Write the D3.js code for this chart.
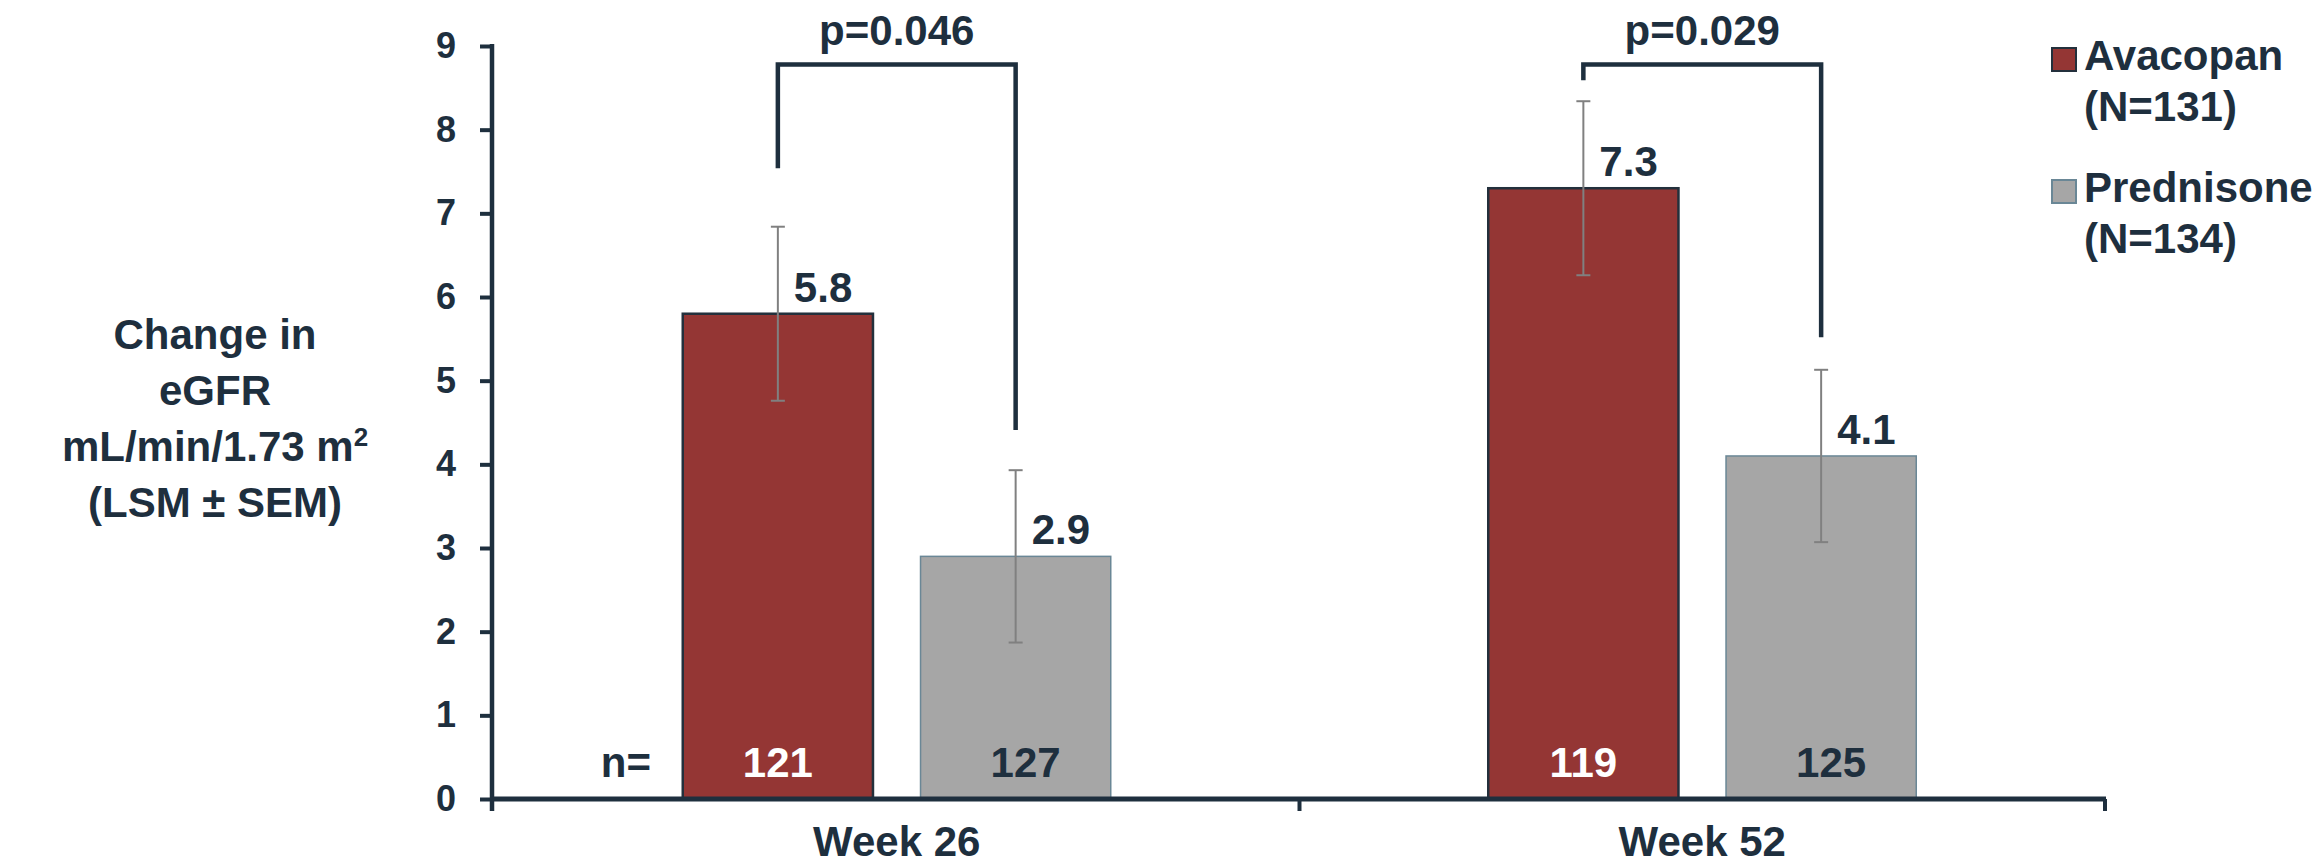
<!DOCTYPE html>
<html>
<head>
<meta charset="utf-8">
<script src="https://cdn.jsdelivr.net/npm/d3@7"></script>
<style>
  html, body { margin: 0; padding: 0; background: #ffffff; }
  svg text { font-family: "Liberation Sans", Arial, Helvetica, sans-serif; font-weight: bold; }
</style>
</head>
<body>
<svg id="chart" width="2321" height="865"></svg>
<script>
// ---- data ----
const weeks = ["Week 26", "Week 52"];
const series = ["Avacopan", "Prednisone"];
const seriesN = ["(N=131)", "(N=134)"];
const avacopanLSM = [5.8, 7.3];
const prednisoneLSM = [2.9, 4.1];
const avacopanSEM = [1.04, 1.04];
const prednisoneSEM = [1.03, 1.03];
const avacopanN = [121, 119];
const prednisoneN = [127, 125];
const pValues = ["p=0.046", "p=0.029"];
const bracketTop = [8.78, 8.78];
const bracketLeftEnd = [7.54, 8.59];
const bracketRightEnd = [4.41, 5.52];
const yTicks = [0, 1, 2, 3, 4, 5, 6, 7, 8, 9];

// ---- styling ----
const ink = "#1e2f3e";
const fills = ["#943634", "#a6a6a6"];
const strokes = ["#23303c", "#6a8796"];
const strokeW = [2.5, 1.5];
const nColors = ["#ffffff", ink];
const nDx = [0, 10];

const svg = d3.select("#chart");
const axisX = 492, plotLeft = 494, plotRight = 2105;
const y = d3.scaleLinear().domain([0, 9]).range([799, 46]);
const xCat = d3.scaleBand().domain(weeks).range([plotLeft, plotRight]).padding(0);
const groupW = 428;
const xBar = d3.scaleBand().domain(series).range([0, groupW]).paddingInner(0.2);
const groupLeft = w => xCat(w) + (xCat.bandwidth() - groupW) / 2;

const rows = weeks.map((w, i) => [
  { week: w, s: 0, lsm: avacopanLSM[i], sem: avacopanSEM[i], n: avacopanN[i] },
  { week: w, s: 1, lsm: prednisoneLSM[i], sem: prednisoneSEM[i], n: prednisoneN[i] }
]);
const bars = rows.flat();
const cx = d => groupLeft(d.week) + xBar(series[d.s]) + xBar.bandwidth() / 2;

// bars
svg.append("g").selectAll("rect").data(bars).join("rect")
  .attr("x", d => groupLeft(d.week) + xBar(series[d.s]))
  .attr("y", d => y(d.lsm))
  .attr("width", xBar.bandwidth())
  .attr("height", d => y(0) - y(d.lsm))
  .attr("fill", d => fills[d.s])
  .attr("stroke", d => strokes[d.s])
  .attr("stroke-width", d => strokeW[d.s]);

// error bars (LSM ± SEM)
const eb = svg.append("g").attr("stroke", "#808080").attr("stroke-width", 2);
bars.forEach(d => {
  const x = cx(d);
  eb.append("line").attr("x1", x).attr("x2", x).attr("y1", y(d.lsm + d.sem)).attr("y2", y(d.lsm - d.sem));
  [d.lsm + d.sem, d.lsm - d.sem].forEach(v =>
    eb.append("line").attr("x1", x - 7).attr("x2", x + 7).attr("y1", y(v)).attr("y2", y(v)));
});

// value labels
svg.append("g").selectAll("text").data(bars).join("text")
  .attr("x", d => cx(d) + 16)
  .attr("y", d => y(d.lsm) - 12)
  .attr("font-size", 42)
  .attr("fill", ink)
  .text(d => d.lsm.toFixed(1));

// n labels inside bars
svg.append("g").selectAll("text").data(bars).join("text")
  .attr("x", d => cx(d) + nDx[d.s])
  .attr("y", 777)
  .attr("text-anchor", "middle")
  .attr("font-size", 42)
  .attr("fill", d => nColors[d.s])
  .text(d => d.n);

svg.append("text").attr("x", 651).attr("y", 777).attr("text-anchor", "end")
  .attr("font-size", 42).attr("fill", ink).text("n=");

// significance brackets
weeks.forEach((w, i) => {
  const xl = cx(rows[i][0]), xr = cx(rows[i][1]);
  svg.append("path")
    .attr("d", `M${xl},${y(bracketLeftEnd[i])}V${y(bracketTop[i])}H${xr}V${y(bracketRightEnd[i])}`)
    .attr("fill", "none").attr("stroke", ink).attr("stroke-width", 4.5);
  svg.append("text").attr("x", (xl + xr) / 2).attr("y", 45)
    .attr("text-anchor", "middle").attr("font-size", 42).attr("fill", ink)
    .text(pValues[i]);
});

// y axis
const yAxis = svg.append("g").attr("transform", `translate(${axisX},0)`)
  .call(d3.axisLeft(y).tickValues(yTicks).tickSize(12).tickPadding(24).tickSizeOuter(0));
yAxis.select(".domain").remove();
yAxis.selectAll(".tick line").attr("stroke", ink).attr("stroke-width", 4);
yAxis.selectAll(".tick text").attr("font-size", 36).attr("fill", ink)
  .attr("font-family", "\"Liberation Sans\", Arial, sans-serif").attr("font-weight", "bold");
svg.append("line").attr("x1", axisX).attr("x2", axisX).attr("y1", y(9) - 2).attr("y2", y(0) + 12)
  .attr("stroke", ink).attr("stroke-width", 4.5);

// x axis with tick marks between categories
svg.append("line").attr("x1", axisX).attr("x2", plotRight + 1).attr("y1", y(0)).attr("y2", y(0))
  .attr("stroke", ink).attr("stroke-width", 5);
const bounds = weeks.map(w => xCat(w)).concat([plotRight]).slice(1);
svg.append("g").selectAll("line").data(bounds).join("line")
  .attr("x1", d => d).attr("x2", d => d).attr("y1", y(0)).attr("y2", y(0) + 12)
  .attr("stroke", ink).attr("stroke-width", 4);
svg.append("g").selectAll("text").data(weeks).join("text")
  .attr("x", w => xCat(w) + xCat.bandwidth() / 2)
  .attr("y", 856)
  .attr("text-anchor", "middle").attr("font-size", 42).attr("fill", ink)
  .text(w => w);

// y axis title
const title = svg.append("text").attr("text-anchor", "middle").attr("font-size", 42).attr("fill", ink);
title.append("tspan").attr("x", 215).attr("y", 349).text("Change in");
title.append("tspan").attr("x", 215).attr("y", 405).text("eGFR");
const l3 = title.append("tspan").attr("x", 215).attr("y", 461);
l3.append("tspan").text("mL/min/1.73 m");
l3.append("tspan").attr("font-size", 26).attr("dy", -15).text("2");
title.append("tspan").attr("x", 215).attr("y", 517).text("(LSM \u00B1 SEM)");

// legend
const legendY = [70, 202];
const lg = svg.append("g");
series.forEach((s, i) => {
  lg.append("rect").attr("x", 2052).attr("y", legendY[i] - 22).attr("width", 24).attr("height", 23)
    .attr("fill", fills[i]).attr("stroke", strokes[i]).attr("stroke-width", 2);
  lg.append("text").attr("x", 2084).attr("y", legendY[i]).attr("font-size", 42).attr("fill", ink).text(s);
  lg.append("text").attr("x", 2084).attr("y", legendY[i] + 51).attr("font-size", 42).attr("fill", ink).text(seriesN[i]);
});
</script>
</body>
</html>
